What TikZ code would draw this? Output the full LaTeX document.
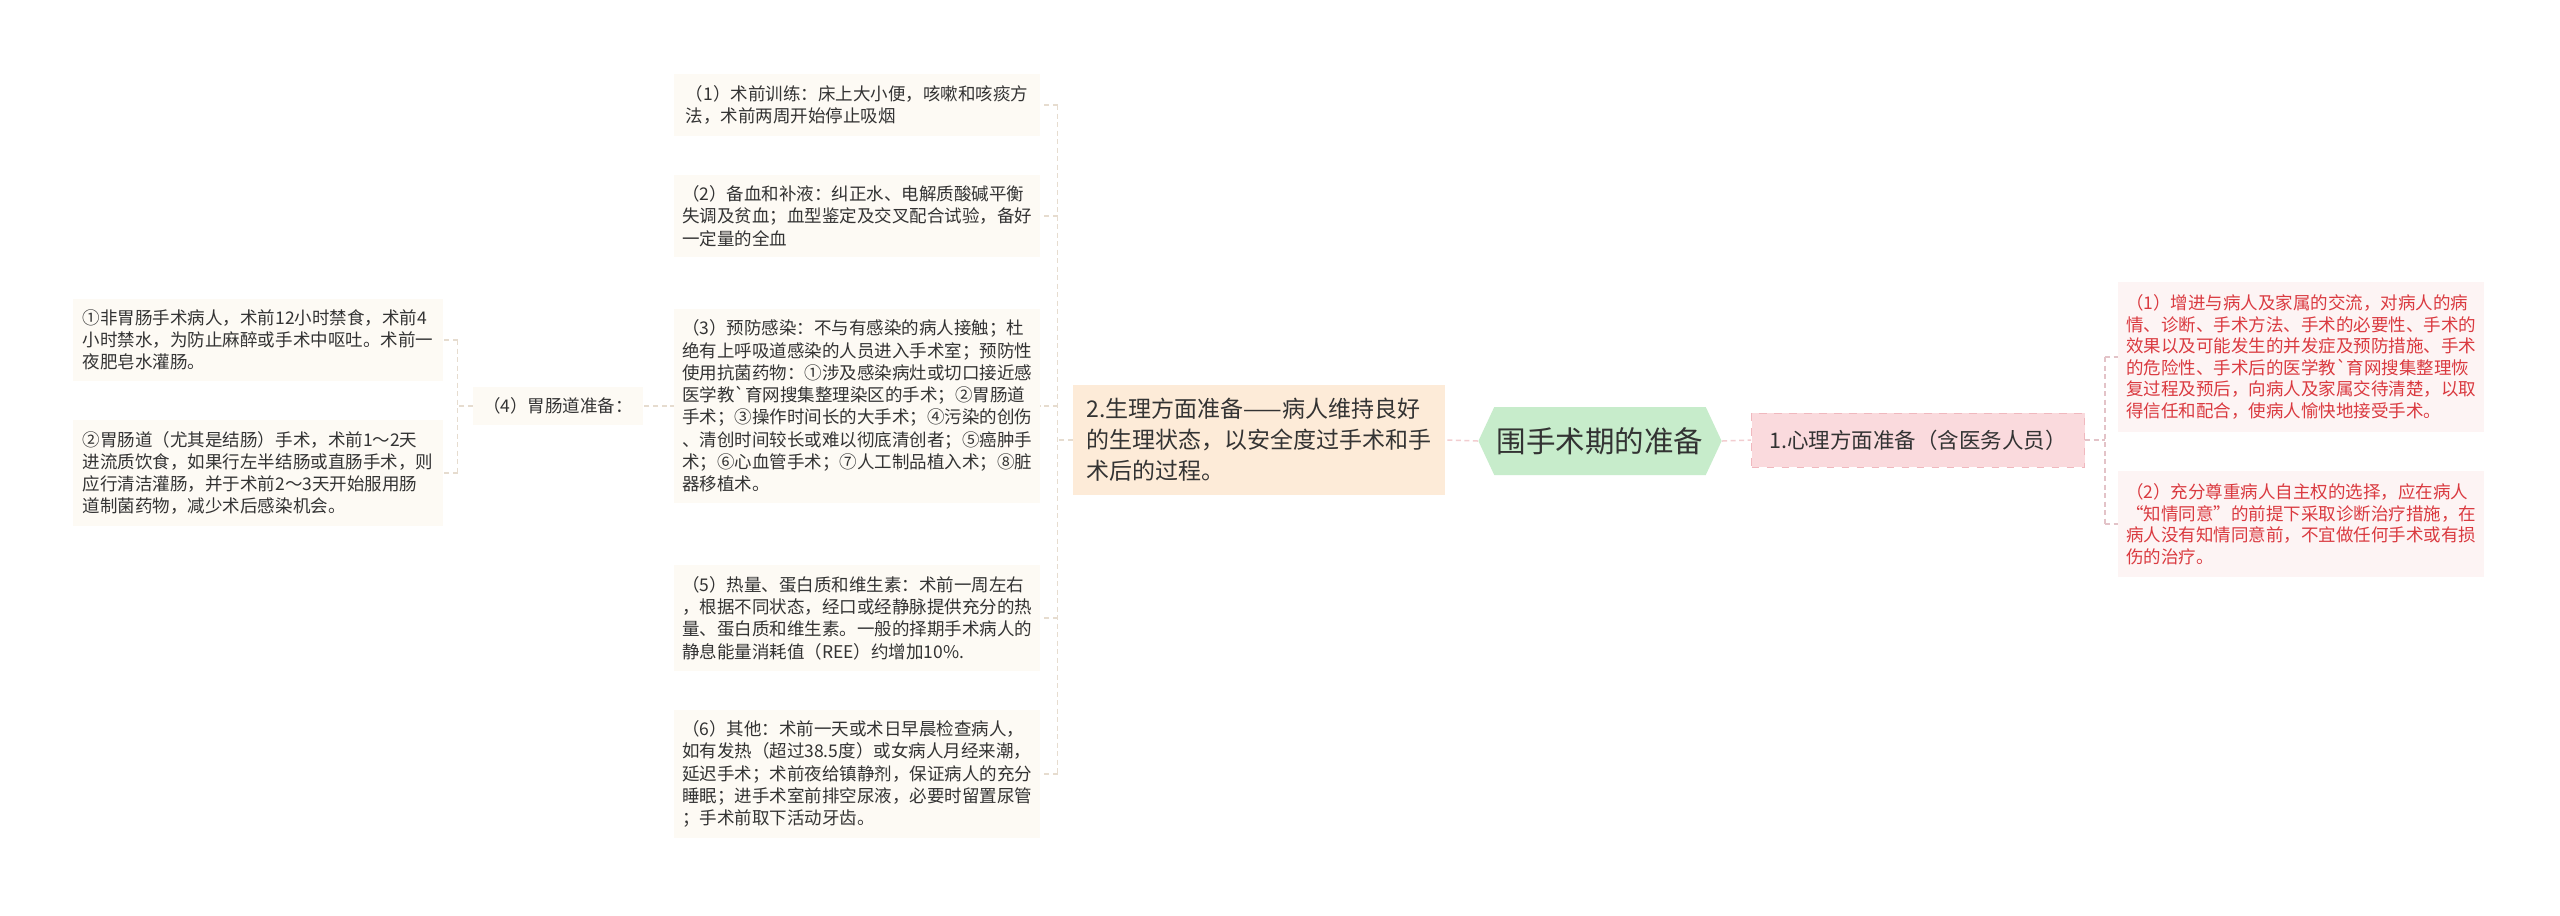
\documentclass[tikz,border=0pt]{standalone}
\usepackage{fontspec}
\newfontfamily\zh{Noto Sans CJK SC}
\usetikzlibrary{shapes.symbols,backgrounds}
\definecolor{leafbg}{HTML}{FDFAF4}
\definecolor{leaftext}{HTML}{333333}
\definecolor{redbg}{HTML}{FDF4F4}
\definecolor{redtext}{HTML}{DA3A40}
\definecolor{shenglibg}{HTML}{FDEBD8}
\definecolor{xinlibg}{HTML}{FADADD}
\definecolor{xinliline}{HTML}{F0B8BE}
\definecolor{rootbg}{HTML}{C7ECCB}
\definecolor{linkc}{HTML}{E6DCCF}
\definecolor{rootlinkc}{HTML}{F2CDD0}
\definecolor{redlinkc}{HTML}{E3C3C8}

\begin{document}
\begin{tikzpicture}[x=0.4pt,y=-0.4pt]
\tikzset{leaf/.style={fill=leafbg,text=leaftext,font=\zh\fontsize{7}{8.9}\selectfont,align=left,inner xsep=3pt,inner ysep=4.4pt,minimum width=146.4pt},
redleaf/.style={leaf,fill=redbg,text=redtext,font=\zh\fontsize{7}{8.6}\selectfont,inner ysep=5pt},
link/.style={draw=linkc,line width=0.6pt,dash pattern=on 2pt off 1.4pt},
rootlink/.style={link,draw=rootlinkc},
redlink/.style={link,draw=redlinkc}}
\useasboundingbox (0,0) rectangle (2560,915);

\node[shape=signal,signal to=west and east,signal pointer angle=130,fill=rootbg,text=leaftext,font=\zh\fontsize{11.8}{14}\selectfont,minimum height=27.2pt,inner xsep=1pt] (root) at (1600,441) {围手术期的准备};

\node[fill=shenglibg,text=leaftext,font=\zh\fontsize{9.2}{12.4}\selectfont,align=left,minimum width=148.8pt,inner ysep=5.4pt] (shengli) at (1259,440) {2.生理方面准备——病人维持良好\\的生理状态，以安全度过手术和手\\术后的过程。};
\node[fill=xinlibg,draw=xinliline,dashed,line width=0.4pt,text=leaftext,font=\zh\fontsize{8.6}{10}\selectfont,minimum width=133.2pt,minimum height=21.6pt] (xinli) at (1918,440) {1.心理方面准备（含医务人员）};

\node[leaf] (s1) at (857,105) {（1）术前训练：床上大小便，咳嗽和咳痰方\\法，术前两周开始停止吸烟};
\node[leaf] (s2) at (857,216) {（2）备血和补液：纠正水、电解质酸碱平衡\\失调及贫血；血型鉴定及交叉配合试验，备好\\一定量的全血};
\node[leaf] (s3) at (857,406) {（3）预防感染：不与有感染的病人接触；杜\\绝有上呼吸道感染的人员进入手术室；预防性\\使用抗菌药物：①涉及感染病灶或切口接近感\\医学教`育网搜集整理染区的手术；②胃肠道\\手术；③操作时间长的大手术；④污染的创伤\\、清创时间较长或难以彻底清创者；⑤癌肿手\\术；⑥心血管手术；⑦人工制品植入术；⑧脏\\器移植术。};
\node[leaf] (s5) at (857,618) {（5）热量、蛋白质和维生素：术前一周左右\\，根据不同状态，经口或经静脉提供充分的热\\量、蛋白质和维生素。一般的择期手术病人的\\静息能量消耗值（REE）约增加10\%.};
\node[leaf] (s6) at (857,774) {（6）其他：术前一天或术日早晨检查病人，\\如有发热（超过38.5度）或女病人月经来潮，\\延迟手术；术前夜给镇静剂，保证病人的充分\\睡眠；进手术室前排空尿液，必要时留置尿管\\；手术前取下活动牙齿。};

\node[leaf,minimum width=68pt,minimum height=15.2pt,inner ysep=2pt] (g4) at (558,406) {（4）胃肠道准备：};
\node[leaf,minimum width=148pt] (g1) at (258,340) {①非胃肠手术病人，术前12小时禁食，术前4\\小时禁水，为防止麻醉或手术中呕吐。术前一\\夜肥皂水灌肠。};
\node[leaf,minimum width=148pt] (g2) at (258,473) {②胃肠道（尤其是结肠）手术，术前1～2天\\进流质饮食，如果行左半结肠或直肠手术，则\\应行清洁灌肠，并于术前2～3天开始服用肠\\道制菌药物，减少术后感染机会。};

\node[redleaf] (x1) at (2301,357) {（1）增进与病人及家属的交流，对病人的病\\情、诊断、手术方法、手术的必要性、手术的\\效果以及可能发生的并发症及预防措施、手术\\的危险性、手术后的医学教`育网搜集整理恢\\复过程及预后，向病人及家属交待清楚，以取\\得信任和配合，使病人愉快地接受手术。};
\node[redleaf] (x2) at (2301,524) {（2）充分尊重病人自主权的选择，应在病人\\“知情同意”的前提下采取诊断治疗措施，在\\病人没有知情同意前，不宜做任何手术或有损\\伤的治疗。};

\path (shengli.west) ++(-15,0) coordinate (sj);
\path (g4.west) ++(-15,0) coordinate (gj);
\path (xinli.east) ++(20,0) coordinate (xj);

\begin{scope}[on background layer]
\fill[white] (0,0) rectangle (2560,915);
\draw[rootlink] (root.west) -- (shengli.east);
\draw[rootlink] (root.east) -- (xinli.west);

\draw[link] (shengli.west) -- (sj);
\draw[link] (sj|-s1.east) -- (sj|-s6.east);
\draw[link] (sj|-s1.east) -- (s1.east);
\draw[link] (sj|-s2.east) -- (s2.east);
\draw[link] (sj|-s3.east) -- (s3.east);
\draw[link] (sj|-g4.east) -- (g4.east);
\draw[link] (sj|-s5.east) -- (s5.east);
\draw[link] (sj|-s6.east) -- (s6.east);

\draw[link] (g4.west) -- (gj);
\draw[link] (gj|-g1.east) -- (gj|-g2.east);
\draw[link] (gj|-g1.east) -- (g1.east);
\draw[link] (gj|-g2.east) -- (g2.east);

\draw[redlink] (xinli.east) -- (xj);
\draw[redlink] (xj|-x1.west) -- (xj|-x2.west);
\draw[redlink] (xj|-x1.west) -- (x1.west);
\draw[redlink] (xj|-x2.west) -- (x2.west);
\end{scope}
\end{tikzpicture}
\end{document}
